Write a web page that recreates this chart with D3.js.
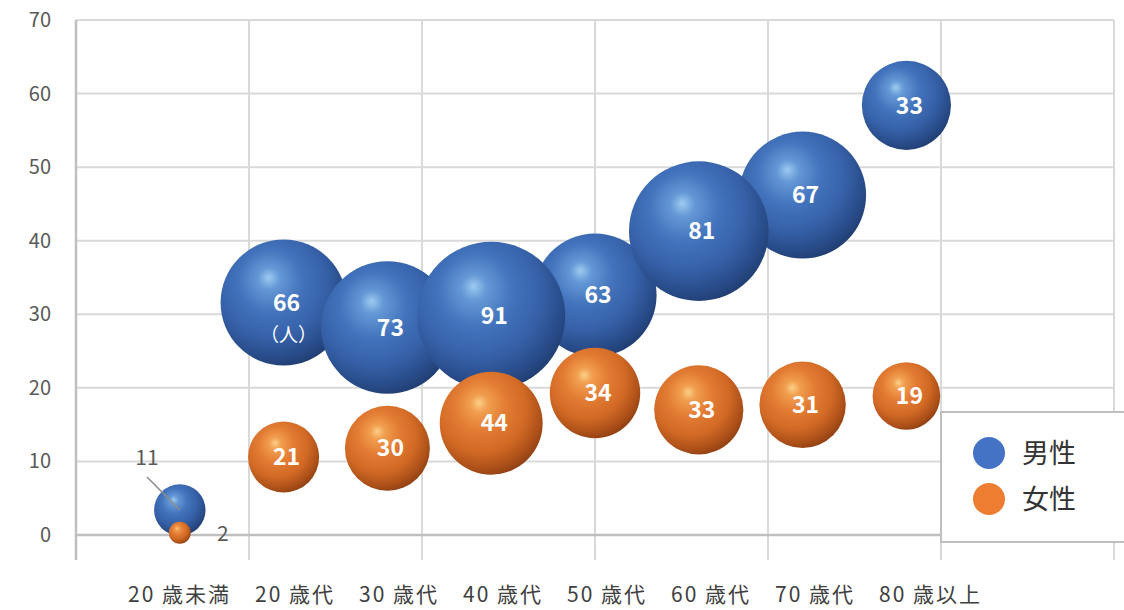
<!DOCTYPE html>
<html>
<head>
<meta charset="utf-8">
<script src="https://cdn.jsdelivr.net/npm/d3@7"></script>
<style>
  body { margin: 0; background: #fff; }
  text { font-family: "Noto Sans CJK JP", "Noto Sans", sans-serif; }
</style>
</head>
<body>
<div class="visContainer"></div>
<script>
// Data.
const categories = ['20 歳未満', '20 歳代', '30 歳代', '40 歳代', '50 歳代', '60 歳代', '70 歳代', '80 歳以上'];
const xValues = [0.6, 1.2, 1.8, 2.4, 3.0, 3.6, 4.2, 4.8];
const maleY = [3.4, 31.6, 28.2, 29.8, 32.6, 41.3, 46.2, 58.4];
const maleSize = [11, 66, 73, 91, 63, 81, 67, 33];
const femaleY = [0.3, 10.6, 11.8, 15.2, 19.3, 17.0, 17.7, 18.9];
const femaleSize = [2, 21, 30, 44, 34, 33, 31, 19];
const yTicks = [0, 10, 20, 30, 40, 50, 60, 70];
const seriesNames = ['男性', '女性'];

// SVG constants.
const width = 1124;
const height = 610;

const svg = d3.select('.visContainer')
              .append('svg')
              .attr('width', width)
              .attr('height', height);

const x = d3.scaleLinear().domain([0, 6]).range([76, 1114]);
const y = d3.scaleLinear().domain([0, 70]).range([535, 20]);
const r = d3.scaleSqrt().domain([0, 91]).range([0, 74]);

// Sphere gradients.
const defs = svg.append('defs');
function sphere(id, stops) {
    const g = defs.append('radialGradient')
                  .attr('id', id)
                  .attr('cx', 0.42).attr('cy', 0.38).attr('r', 0.72)
                  .attr('fx', 0.38).attr('fy', 0.3);
    stops.forEach(s => g.append('stop').attr('offset', s[0]).attr('stop-color', s[1]));
}
sphere('blueBall', [[0, '#9ccbf0'], [0.12, '#6598d6'], [0.35, '#4273bc'], [0.6, '#3661a8'], [0.8, '#284b88'], [1, '#1a3260']]);
sphere('orangeBall', [[0, '#fbcf86'], [0.12, '#f19e4f'], [0.35, '#e27b33'], [0.6, '#d26a25'], [0.8, '#ad5019'], [1, '#76320e']]);

// Grid lines.
const grid = svg.append('g');
grid.selectAll('.vgrid')
    .data(d3.range(1, 7))
    .enter().append('line')
    .attr('x1', d => x(d)).attr('x2', d => x(d))
    .attr('y1', y(70)).attr('y2', 560)
    .attr('stroke', '#d9d9d9').attr('stroke-width', 2);
grid.selectAll('.hgrid')
    .data(yTicks.filter(d => d > 0))
    .enter().append('line')
    .attr('x1', x(0)).attr('x2', x(6))
    .attr('y1', d => y(d)).attr('y2', d => y(d))
    .attr('stroke', '#d9d9d9').attr('stroke-width', 2);

// Axes lines.
svg.append('line')
   .attr('x1', x(0)).attr('x2', x(0))
   .attr('y1', y(70)).attr('y2', 560)
   .attr('stroke', '#bfbfbf').attr('stroke-width', 2.5);
svg.append('line')
   .attr('x1', x(0)).attr('x2', x(6))
   .attr('y1', y(0)).attr('y2', y(0))
   .attr('stroke', '#bfbfbf').attr('stroke-width', 2.5);

// Y tick labels.
svg.selectAll('.ytick')
   .data(yTicks)
   .enter().append('text')
   .attr('x', 51)
   .attr('y', d => y(d))
   .attr('dy', '0.35em')
   .attr('text-anchor', 'end')
   .attr('font-size', '20px')
   .attr('fill', '#595959')
   .text(d => d);

// Category labels laid out as one row.
let cursor = 128;
categories.forEach(c => {
    const t = svg.append('text')
                 .attr('x', cursor)
                 .attr('y', 602)
                 .attr('font-size', '21px')
                 .attr('fill', '#404040')
                 .attr('letter-spacing', '2px')
                 .text(c);
    cursor += t.node().getComputedTextLength() + 24;
});

// Bubbles.
const male = maleSize.map((s, i) => ({x: xValues[i], y: maleY[i], s: s}));
const female = femaleSize.map((s, i) => ({x: xValues[i], y: femaleY[i], s: s}));
const maleOrder = male.slice().sort((a, b) => a.s - b.s);

svg.append('g').selectAll('circle')
   .data(maleOrder)
   .enter().append('circle')
   .attr('cx', d => x(d.x))
   .attr('cy', d => y(d.y))
   .attr('r', d => r(d.s))
   .attr('fill', 'url(#blueBall)');

svg.append('g').selectAll('circle')
   .data(female)
   .enter().append('circle')
   .attr('cx', d => x(d.x))
   .attr('cy', d => y(d.y))
   .attr('r', d => r(d.s))
   .attr('fill', 'url(#orangeBall)');

// Value labels inside bubbles.
const inside = male.slice(1).concat(female.slice(1));
svg.append('g').selectAll('text')
   .data(inside)
   .enter().append('text')
   .attr('x', d => x(d.x) + 3)
   .attr('y', d => y(d.y))
   .attr('dy', '0.36em')
   .attr('text-anchor', 'middle')
   .attr('font-family', '"Open Sans", sans-serif')
   .attr('font-weight', 'bold')
   .attr('font-size', '23px')
   .attr('fill', '#fff')
   .text(d => d.s);

svg.append('text')
   .attr('x', x(male[1].x) + 5)
   .attr('y', y(male[1].y) + 39)
   .attr('text-anchor', 'middle')
   .attr('font-size', '19px')
   .attr('fill', '#fff')
   .text('（人）');

// Small bubbles labelled outside.
svg.append('line')
   .attr('x1', 147).attr('y1', 477)
   .attr('x2', x(male[0].x)).attr('y2', y(male[0].y))
   .attr('stroke', '#8c8c8c').attr('stroke-width', 1.5);
svg.append('text')
   .attr('x', 147).attr('y', 465)
   .attr('text-anchor', 'middle')
   .attr('font-size', '21px')
   .attr('fill', '#595959')
   .text(male[0].s);
svg.append('text')
   .attr('x', x(female[0].x) + r(female[0].s) + 32).attr('y', y(female[0].y) + 8)
   .attr('text-anchor', 'middle')
   .attr('font-size', '21px')
   .attr('fill', '#595959')
   .text(female[0].s);

// Legend.
const legend = svg.append('g');
legend.append('rect')
      .attr('x', 941).attr('y', 412)
      .attr('width', 200).attr('height', 130)
      .attr('fill', '#fff')
      .attr('stroke', '#bfbfbf').attr('stroke-width', 2);
const legendColors = ['#4472c4', '#ed7d31'];
seriesNames.forEach((n, i) => {
    legend.append('circle')
          .attr('cx', 989).attr('cy', 453 + i * 46)
          .attr('r', 16)
          .attr('fill', legendColors[i]);
    legend.append('text')
          .attr('x', 1022).attr('y', 453 + i * 46)
          .attr('dy', '0.36em')
          .attr('font-size', '27px')
          .attr('fill', '#333')
          .text(n);
});
</script>
</body>
</html>
